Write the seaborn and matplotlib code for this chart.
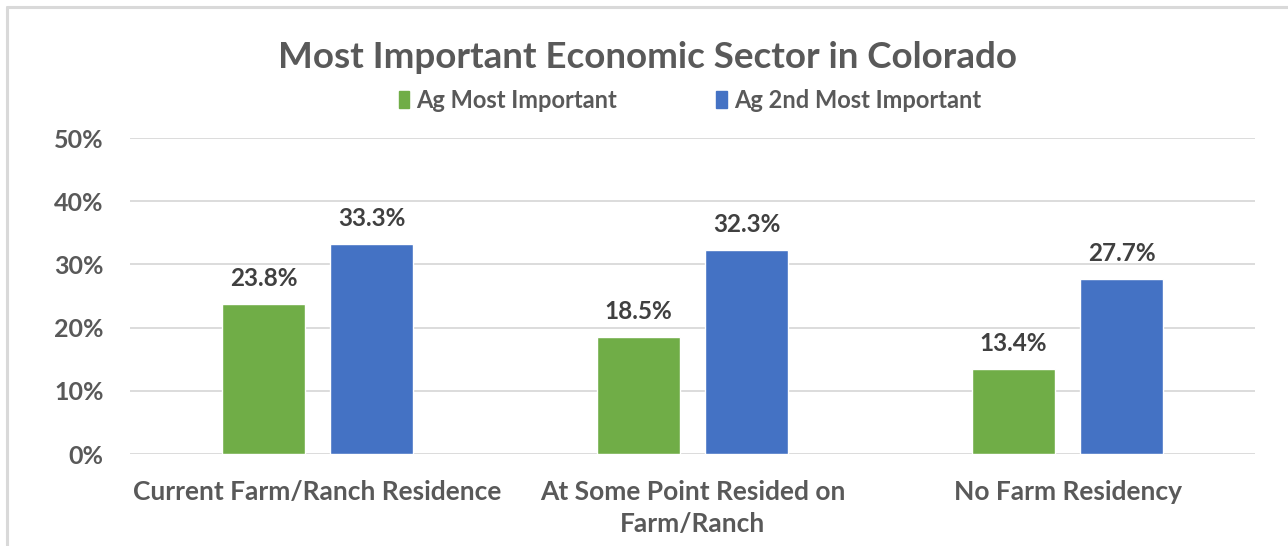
import matplotlib
matplotlib.use("Agg")
import matplotlib.pyplot as plt
import seaborn as sns
import pandas as pd
from matplotlib.lines import Line2D
from matplotlib.patches import Patch

categories = ["Current Farm/Ranch Residence", "At Some Point Resided on\nFarm/Ranch", "No Farm Residency"]
series_names = ["Ag Most Important", "Ag 2nd Most Important"]
ag_most = [23.8, 18.5, 13.4]
ag_second = [33.3, 32.3, 27.7]
yticks = [0, 10, 20, 30, 40, 50]
colors = ["#70AD47", "#4472C4"]

df = pd.DataFrame({
    "category": categories * 2,
    "series": [series_names[0]] * 3 + [series_names[1]] * 3,
    "value": ag_most + ag_second,
})

sns.set_theme(style="white")
FONT = "Lato"
plt.rcParams['font.family'] = [FONT, 'DejaVu Sans']

fig = plt.figure(figsize=(12.88, 5.46), dpi=100)
ax = fig.add_axes([130/1288, 92/546, (1255-130)/1288, (454-138)/546])

sns.barplot(data=df, x="category", y="value", hue="series", order=categories,
            hue_order=series_names, palette=colors, width=0.576, gap=0.233,
            ax=ax, legend=False, saturation=1)

ax.set_xlim(-0.5, 2.5)
ax.set_ylim(0, 50)
ax.set_yticks(yticks)
ax.set_yticklabels([f"{v}%" for v in yticks], fontsize=18, fontweight="bold", color="#595959")
ax.yaxis.grid(True, color="#D9D9D9", linewidth=1.3)
ax.set_axisbelow(True)
for s in ax.spines.values():
    s.set_visible(False)
ax.tick_params(axis="both", length=0)
ax.tick_params(axis="y", pad=19)
ax.tick_params(axis="x", pad=19)
ax.set_xticks(range(len(categories)))
ax.set_xticklabels(categories, fontsize=19, fontweight="bold", color="#595959", linespacing=1.4)
ax.set_xlabel("")
ax.set_ylabel("")

for container in ax.containers:
    ax.bar_label(container, labels=[f"{v:.1f}%" for v in container.datavalues],
                 padding=10, fontsize=17.5, fontweight="bold", color="#404040")

fig.text(648/1288, 1 - 57/546, "Most Important Economic Sector in Colorado",
         ha="center", va="center", fontsize=26.5, fontweight="bold", color="#595959")

handles = [Patch(facecolor=c, edgecolor=c) for c in colors]
leg = fig.legend(handles, series_names, loc="center", bbox_to_anchor=(690/1288, 1 - 100/546),
                 ncol=2, frameon=False, fontsize=17, handlelength=0.45, handleheight=0.7,
                 columnspacing=4.2, handletextpad=0.3)
for t in leg.get_texts():
    t.set_color("#595959")
    t.set_fontweight("bold")

fig.add_artist(Line2D([7/1288, 1], [1 - 7/546, 1 - 7/546], transform=fig.transFigure,
                      color="#D9D9D9", linewidth=2.2))
fig.add_artist(Line2D([7/1288, 7/1288], [0, 1 - 7/546], transform=fig.transFigure,
                      color="#D9D9D9", linewidth=2.2))

fig.savefig("out.png", dpi=100, facecolor="white")
